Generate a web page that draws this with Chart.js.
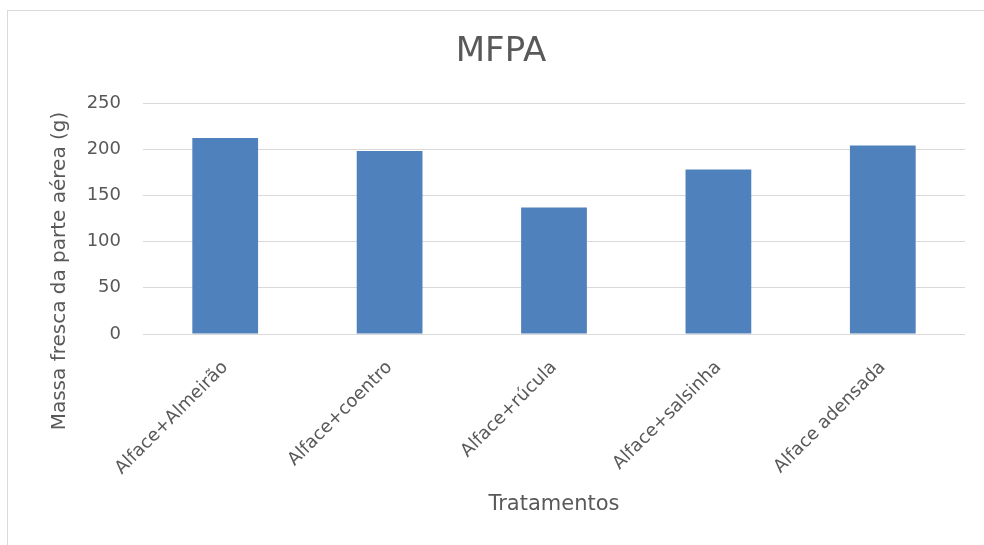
<!DOCTYPE html>
<html>
<head>
<meta charset="utf-8">
<script src="https://cdn.jsdelivr.net/npm/chart.js@4"></script>
<style>
  html, body { margin: 0; padding: 0; background: #ffffff; overflow: hidden; }
  #wrap { position: relative; width: 984px; height: 545px; }
  #frame { position: absolute; left: 7px; top: 10px; width: 1000px; height: 560px; border: 1px solid #d9d9d9; box-sizing: border-box; }
  canvas { position: absolute; left: 0; top: 0; }
</style>
</head>
<body>
<div id="wrap">
  <div id="frame"></div>
  <canvas id="c" width="984" height="545"></canvas>
</div>
<script>
const chartTitle = 'MFPA';
const categories = ['Alface+Almeirão', 'Alface+coentro', 'Alface+rúcula', 'Alface+salsinha', 'Alface adensada'];
const values = [212, 198, 137, 178, 204];
const yTicks = [0, 50, 100, 150, 200, 250];
const xAxisTitle = 'Tratamentos';
const yAxisTitle = 'Massa fresca da parte aérea (g)';

const FONT = "'DejaVu Sans', sans-serif";
const GREY = '#595959';

const textPlugin = {
  id: 'texts',
  afterDraw(chart) {
    const ctx = chart.ctx;
    const area = chart.chartArea;
    ctx.save();
    ctx.fillStyle = GREY;
    ctx.textAlign = 'center';
    ctx.textBaseline = 'middle';
    ctx.font = '34px ' + FONT;
    ctx.fillText(chartTitle, 501, 52);
    ctx.font = '21px ' + FONT;
    ctx.fillText(xAxisTitle, (area.left + area.right) / 2, 505);
    ctx.translate(60, 271);
    ctx.rotate(-Math.PI / 2);
    ctx.font = '20px ' + FONT;
    ctx.fillText(yAxisTitle, 0, 0);
    ctx.restore();
  }
};

new Chart(document.getElementById('c'), {
  type: 'bar',
  data: {
    labels: categories,
    datasets: [{
      data: values,
      backgroundColor: '#4f81bd',
      borderWidth: 0,
      barPercentage: 0.4,
      categoryPercentage: 1.0
    }]
  },
  options: {
    responsive: false,
    animation: false,
    devicePixelRatio: 1,
    layout: { padding: { left: 0, right: 19, top: 103, bottom: 0 } },
    plugins: { legend: { display: false }, title: { display: false }, tooltip: { enabled: false } },
    scales: {
      x: {
        grid: { display: false },
        border: { display: false },
        ticks: {
          color: GREY,
          font: { family: FONT, size: 18 },
          minRotation: 45,
          maxRotation: 45,
          padding: 15,
          autoSkip: false
        },
        afterFit(scale) { scale.height = 211; }
      },
      y: {
        min: 0,
        max: 250,
        afterBuildTicks(scale) { scale.ticks = yTicks.map(v => ({ value: v })); },
        grid: { color: '#d9d9d9', lineWidth: 1, drawTicks: false },
        border: { display: false },
        ticks: {
          color: GREY,
          font: { family: FONT, size: 18 },
          padding: 22
        },
        afterFit(scale) { scale.width = 143; }
      }
    }
  },
  plugins: [textPlugin]
});
</script>
</body>
</html>
